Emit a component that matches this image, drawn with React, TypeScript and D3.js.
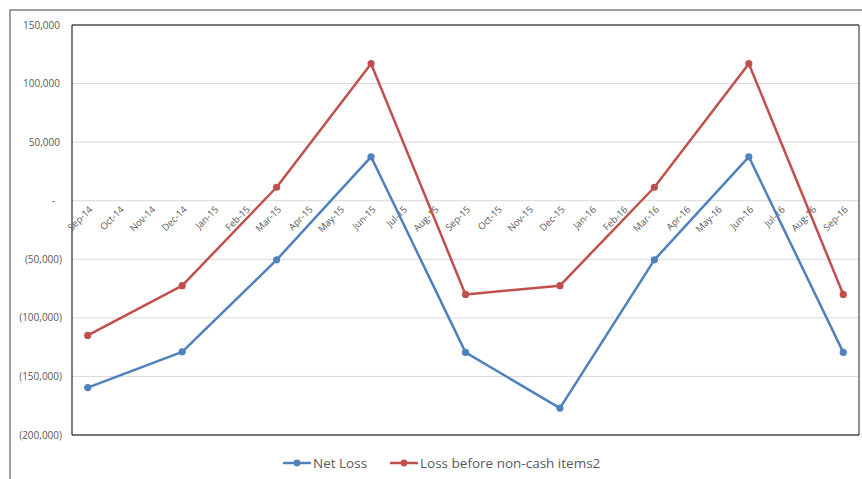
import React from "react";
import * as d3 from "d3";

const months = [
  "Sep-14", "Oct-14", "Nov-14", "Dec-14", "Jan-15", "Feb-15", "Mar-15", "Apr-15", "May-15",
  "Jun-15", "Jul-15", "Aug-15", "Sep-15", "Oct-15", "Nov-15", "Dec-15", "Jan-16", "Feb-16",
  "Mar-16", "Apr-16", "May-16", "Jun-16", "Jul-16", "Aug-16", "Sep-16",
];

// Quarterly reporting months carrying values
const quarterMonths = ["Sep-14", "Dec-14", "Mar-15", "Jun-15", "Sep-15", "Dec-15", "Mar-16", "Jun-16", "Sep-16"];
const netLoss = [-159500, -129000, -50500, 37500, -129500, -177000, -50500, 37500, -129500];
const lossBeforeNonCash = [-115000, -72500, 11500, 117000, -80000, -72500, 11500, 117000, -80000];

const yTicks = [150000, 100000, 50000, 0, -50000, -100000, -150000, -200000];
const yTickLabels = ["150,000", "100,000", "50,000", "-", "(50,000)", "(100,000)", "(150,000)", "(200,000)"];

const seriesNames = ["Net Loss", "Loss before non-cash items2"];
const seriesColors = ["#4f81bd", "#c0504d"];

const W = 862;
const H = 479;
const plot = { left: 72, right: 859, top: 25, bottom: 435 };
const FONT = "'Open Sans', 'Noto Sans', sans-serif";
const TEXT = "#595959";

export default function App() {
  const x = d3.scaleBand<string>().domain(months).range([plot.left, plot.right]);
  const cx = (m: string) => (x(m) as number) + x.bandwidth() / 2;
  const y = d3.scaleLinear().domain([-200000, 150000]).range([plot.bottom, plot.top]);

  const series = [netLoss, lossBeforeNonCash].map((vals) =>
    vals.map((v, i) => ({ m: quarterMonths[i], v }))
  );
  const line = d3
    .line<{ m: string; v: number }>()
    .x((d) => cx(d.m))
    .y((d) => y(d.v));

  const legendItems = [
    { x0: 283, tx: 313 },
    { x0: 390, tx: 420 },
  ];

  return (
    <svg
      width={W}
      height={H}
      style={{ position: "absolute", left: 0, top: 0, background: "#fff" }}
      fontFamily={FONT}
    >
      {/* outer chart frame */}
      <rect x={10} y={10} width={W + 20} height={H + 20} fill="none" stroke="#6e6e6e" strokeWidth={1.3} />

      {/* horizontal gridlines */}
      {yTicks.map((t) => (
        <line key={t} x1={plot.left} x2={plot.right} y1={y(t)} y2={y(t)} stroke="#d9d9d9" strokeWidth={1} />
      ))}

      {/* plot area border */}
      <line x1={plot.left} x2={plot.right} y1={plot.top} y2={plot.top} stroke="#7a7a7a" strokeWidth={1.8} />
      <line x1={plot.right} x2={plot.right} y1={plot.top} y2={plot.bottom} stroke="#555" strokeWidth={1.3} />
      <line x1={plot.left} x2={plot.left} y1={plot.top} y2={plot.bottom} stroke="#000" strokeWidth={1} />
      <line x1={plot.left} x2={plot.right} y1={plot.bottom} y2={plot.bottom} stroke="#000" strokeWidth={1} />

      {/* y-axis labels */}
      {yTicks.map((t, i) => {
        const lbl = yTickLabels[i];
        const xr = lbl.startsWith("(") ? 62 : lbl === "-" ? 55 : 60;
        return (
          <text key={t} x={xr} y={y(t)} dy="0.35em" textAnchor="end" fontSize={10} fill={TEXT}>
            {lbl}
          </text>
        );
      })}

      {/* x-axis labels, rotated */}
      {months.map((m) => (
        <text
          key={m}
          transform={`translate(${cx(m) + 3},${y(0) + 7}) rotate(-45)`}
          textAnchor="end"
          dy="0.35em"
          fontSize={9.5}
          fill={TEXT}
        >
          {m}
        </text>
      ))}

      {/* series */}
      {series.map((pts, si) => (
        <g key={si}>
          <path d={line(pts) || ""} fill="none" stroke={seriesColors[si]} strokeWidth={2.5} strokeLinejoin="round" />
          {pts.map((p) => (
            <circle key={p.m} cx={cx(p.m)} cy={y(p.v)} r={3.6} fill={seriesColors[si]} />
          ))}
        </g>
      ))}

      {/* legend */}
      {legendItems.map((it, i) => (
        <g key={i}>
          <line x1={it.x0} x2={it.x0 + 28} y1={463} y2={463} stroke={seriesColors[i]} strokeWidth={2.5} />
          <circle cx={it.x0 + 14} cy={463} r={3.4} fill={seriesColors[i]} />
          <text x={it.tx} y={463} dy="0.35em" fontSize={13.5} fill={TEXT}>
            {seriesNames[i]}
          </text>
        </g>
      ))}
    </svg>
  );
}
